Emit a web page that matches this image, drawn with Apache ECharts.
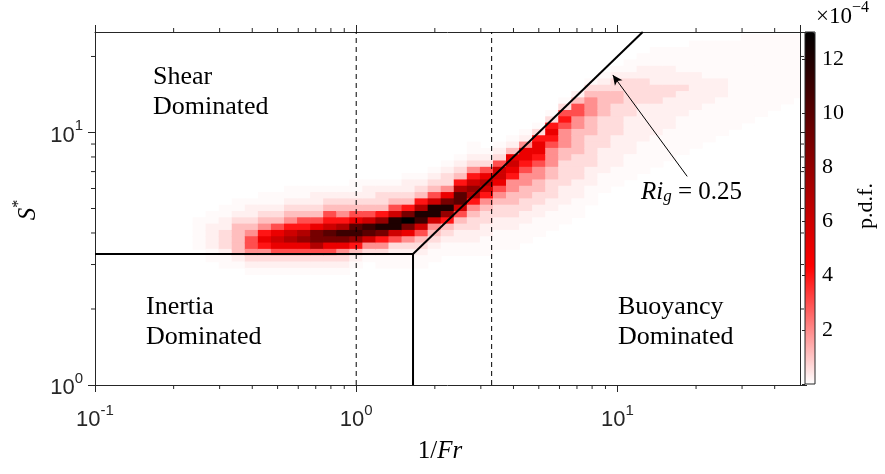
<!DOCTYPE html>
<html>
<head>
<meta charset="utf-8">
<script src="https://cdn.jsdelivr.net/npm/echarts@6/dist/echarts.min.js"></script>
<style>html,body{margin:0;padding:0;background:#fff}#c{width:885px;height:474px}</style>
</head>
<body>
<div id="c"></div>
<script>
// ---- data ----
// log10 bin centres of the p.d.f. grid (x: 1/Fr, y: S*)
const xBinLog = [-0.60,-0.55,-0.50,-0.45,-0.40,-0.35,-0.30,-0.25,-0.20,-0.15,-0.10,-0.05,0.00,0.05,0.10,0.15,0.20,0.25,0.30,0.35,0.40,0.45,0.50,0.55,0.60,0.65,0.70,0.75,0.80,0.85,0.90,0.95,1.00,1.05,1.10,1.15,1.20,1.25,1.30,1.35,1.40,1.45,1.50,1.55,1.60,1.65,1.70];
const yBinLog = [1.400,1.375,1.350,1.325,1.300,1.275,1.250,1.225,1.200,1.175,1.150,1.125,1.100,1.075,1.050,1.025,1.000,0.975,0.950,0.925,0.900,0.875,0.850,0.825,0.800,0.775,0.750,0.725,0.700,0.675,0.650,0.625,0.600,0.575,0.550,0.525,0.500,0.475,0.450,0.425,0.400,0.375,0.350];
// density level codes (p.d.f. in units of 1e-4)
const levelKeys = 'abcdefghijklmnop';
const levelValues = [0.08,0.25,0.6,1.1,1.9,3,4,5,6,7,8,9,10,11,12,13];
// for each x column: first y row (index into yBinLog) and level codes downward
const colStart = [30,29,28,27,27,26,26,25,25,25,25,25,24,24,24,24,23,23,22,21,20,18,19,18,17,16,15,13,11,10,8,7,6,5,4,3,3,3,2,2,2,2,1,1,1,1,1];
const colVals = [
 "aaaaa","aabbbbaa","aabbcccbaa","aabcdddddba","abbcdeffecba","aabcdeghgecba","aabcdfhihfcba","aabcdegijhfcba",
 "aabcdfgjkhfcba","abbcdfhlljfcba","abcdfgimlhfcba","abcdegjnlhecba","aabcdfhmnkgdba","abbcdfinmieca","abccdgkolgecaa","abcdfiooifcbaa",
 "abbcdglplhecbaa","abcdgjonifdcbaa","abcdfiooiedcbaa","abccehlokgdcbaa","abcdgjmmifdcbbaa","aabcegikjgedccbbaa","abcfhjigedccbbaaa","abcfiihfedccbbaaa",
 "abdhihgeeddccbbaaa","abehhgfeeddccbbaaa","acghhgfeeddccbbaaa","acghgfeeeddcccbbaaa","acfgfeeeddccccbbbaaa","bdffeeddddccccbbbaaa","acdeeedddcccccbbbaaa","abcddddcccccbbbbaaa",
 "abccddcccccbbbbbaaa","aabccccccbbbbbbaaaa","aabbccccbbbbbbaaaaa","aaabbbcccbbbbbaaaaa","aaabbbccbbbbbaaaaa","aaaabbcbbbbaaaaaa","aaaaabbbbbbaaaaaa","aaaaaabbbbaaaaaa",
 "aaaaaabbbaaaaaa","aaaaaaaaaaaaaa","aaaaaaaaaaaaaa","aaaaaaaaaaaaa","aaaaaaaaaaaa","aaaaaaaaaaa","aaaaaaaaaa"
];
// regime boundaries and reference lines (data coordinates)
const inertiaBoundary = [[0.1,3.3],[1.65,3.3],[1.65,1]];
const richardsonLine = [[1.65,3.3],[12.5,25]];
const dashedX = [1, 3.3];
const arrowFrom = [18.5, 6.7];
const arrowTo = [9.6, 16.9];
// axis ranges and minor ticks
const xRange = [0.1, 50];
const yRange = [1, 25];
const xMinorTicks = [0.2,0.3,0.4,0.5,0.6,0.7,0.8,0.9,2,3,4,5,6,7,8,9,20,30,40];
const yMinorTicks = [2,3,4,5,6,7,8,9,20];
const cbarRange = [0, 13];
const cbarTicks = [2,4,6,8,10,12];

// ---- build ----
const halfX = Math.pow(10, 0.025), halfY = Math.pow(10, 0.0125);
const heat = [];
colVals.forEach((s, i) => {
  for (let k = 0; k < s.length; k++) {
    const v = levelValues[levelKeys.indexOf(s[k])];
    heat.push([Math.pow(10, xBinLog[i]), Math.pow(10, yBinLog[colStart[i] + k]), v]);
  }
});

const AX = '#262626';
const SERIF = '"Liberation Serif"';
function powLabel(v) {
  const e = Math.round(Math.log10(v));
  if (Math.abs(Math.pow(10, e) - v) > 1e-9 * v) return '';
  return '{bb|10}{ss|' + e + '}';
}
const richPow = {
  bb: {fontFamily: 'Liberation Sans', fontSize: 22, color: AX, lineHeight: 28, verticalAlign: 'bottom'},
  ss: {fontFamily: 'Liberation Sans', fontSize: 15, color: AX, lineHeight: 28, verticalAlign: 'top'}
};

const chart = echarts.init(document.getElementById('c'), null, {renderer: 'canvas'});
const lineStyleBlack = {color: '#000', width: 2};
chart.setOption({
  animation: false,
  backgroundColor: '#fff',
  grid: [
    {left: 95, top: 32, width: 705, height: 353},
    {left: 805, top: 32, width: 10, height: 352, show: true, z: 10, borderColor: AX, borderWidth: 1, backgroundColor: 'transparent'}
  ],
  xAxis: [
    {type: 'log', logBase: 10, min: xRange[0], max: xRange[1], gridIndex: 0, position: 'bottom',
     axisLine: {lineStyle: {color: AX, width: 1}}, axisTick: {length: 7, lineStyle: {color: AX}},
     splitLine: {show: false}, axisLabel: {formatter: powLabel, rich: richPow, margin: 18, showMaxLabel: false}},
    {type: 'log', logBase: 10, min: xRange[0], max: xRange[1], gridIndex: 0, position: 'top',
     axisLine: {onZero: false, lineStyle: {color: AX, width: 1}}, axisTick: {length: 7, lineStyle: {color: AX}},
     splitLine: {show: false}, axisLabel: {show: false}},
    {type: 'value', gridIndex: 1, min: 0, max: 1, show: false}
  ],
  yAxis: [
    {type: 'log', logBase: 10, min: yRange[0], max: yRange[1], gridIndex: 0, position: 'left',
     axisLine: {lineStyle: {color: AX, width: 1}}, axisTick: {length: 7, lineStyle: {color: AX}},
     splitLine: {show: false}, axisLabel: {formatter: powLabel, rich: richPow, margin: 12, showMaxLabel: false}},
    {type: 'log', logBase: 10, min: yRange[0], max: yRange[1], gridIndex: 0, position: 'right',
     axisLine: {onZero: false, lineStyle: {color: AX, width: 1}}, axisTick: {length: 7, lineStyle: {color: AX}},
     splitLine: {show: false}, axisLabel: {show: false}},
    {type: 'value', gridIndex: 1, min: cbarRange[0], max: cbarRange[1], interval: 2, position: 'right', z: 10,
     axisLine: {show: false},
     axisTick: {show: true, inside: true, length: 3, lineStyle: {color: AX}},
     splitLine: {show: false},
     axisLabel: {margin: 7, fontFamily: 'Liberation Serif', fontSize: 22, color: '#000', showMaxLabel: false,
       formatter: v => cbarTicks.indexOf(v) >= 0 ? String(v) : ''}}
  ],
  visualMap: {
    type: 'continuous', seriesIndex: 0, dimension: 2, min: cbarRange[0], max: cbarRange[1],
    calculable: false, orient: 'vertical', left: 805, top: 32, itemWidth: 10, itemHeight: 352, padding: 0,
    text: null, showLabel: false, hoverLink: false,
    inRange: {color: ['#ffffff', '#ff0000', '#800000', '#000000']}
  },
  series: [
    {
      type: 'custom', xAxisIndex: 0, yAxisIndex: 0, data: heat, clip: true, z: 1,
      renderItem: function (params, api) {
        const x = api.value(0), y = api.value(1);
        const p1 = api.coord([x / halfX, y * halfY]);
        const p2 = api.coord([x * halfX, y / halfY]);
        const cs = params.coordSys;
        const r = echarts.graphic.clipRectByRect(
          {x: p1[0] - 0.4, y: p1[1] - 0.4, width: p2[0] - p1[0] + 0.8, height: p2[1] - p1[1] + 0.8},
          {x: cs.x, y: cs.y, width: cs.width, height: cs.height});
        if (!r) return;
        return {type: 'rect', shape: r, style: {fill: api.visual('color')}};
      }
    },
    {type: 'line', xAxisIndex: 0, yAxisIndex: 0, data: inertiaBoundary, symbol: 'none', lineStyle: lineStyleBlack, z: 5},
    {type: 'line', xAxisIndex: 0, yAxisIndex: 0, data: richardsonLine, symbol: 'none', lineStyle: lineStyleBlack, z: 5,
     markLine: {silent: true, symbol: ['none', 'arrow'], symbolSize: [7, 10], animation: false,
       lineStyle: {color: '#000', width: 1, type: 'solid'}, label: {show: false},
       data: [[{coord: arrowFrom}, {coord: arrowTo}]]}},
    {type: 'line', xAxisIndex: 0, yAxisIndex: 0, data: [[dashedX[0], yRange[0]], [dashedX[0], yRange[1]]], symbol: 'none',
     lineStyle: {color: '#000', width: 1, type: [5, 4]}, z: 5},
    {type: 'line', xAxisIndex: 0, yAxisIndex: 0, data: [[dashedX[1], yRange[0]], [dashedX[1], yRange[1]]], symbol: 'none',
     lineStyle: {color: '#000', width: 1, type: [5, 4]}, z: 5},
    {type: 'custom', xAxisIndex: 0, yAxisIndex: 0, data: xMinorTicks.map(v => [v]), clip: false, z: 3,
     renderItem: function (params, api) {
       const cs = params.coordSys;
       const x = api.coord([api.value(0), yRange[0]])[0];
       return {type: 'group', children: [
         {type: 'line', shape: {x1: x, y1: cs.y + cs.height, x2: x, y2: cs.y + cs.height + 4}, style: {stroke: AX, lineWidth: 1}},
         {type: 'line', shape: {x1: x, y1: cs.y, x2: x, y2: cs.y - 4}, style: {stroke: AX, lineWidth: 1}}
       ]};
     }},
    {type: 'custom', xAxisIndex: 0, yAxisIndex: 0, data: yMinorTicks.map(v => [xRange[0], v]), clip: false, z: 3,
     renderItem: function (params, api) {
       const cs = params.coordSys;
       const y = api.coord([xRange[0], api.value(1)])[1];
       return {type: 'group', children: [
         {type: 'line', shape: {x1: cs.x, y1: y, x2: cs.x - 4, y2: y}, style: {stroke: AX, lineWidth: 1}},
         {type: 'line', shape: {x1: cs.x + cs.width, y1: y, x2: cs.x + cs.width + 4, y2: y}, style: {stroke: AX, lineWidth: 1}}
       ]};
     }}
  ],
  graphic: [
    {type: 'text', left: 153, top: 62, z: 20, style: {text: 'Shear\nDominated', font: '26px ' + SERIF, lineHeight: 30, fill: '#000'}},
    {type: 'text', left: 146, top: 292, z: 20, style: {text: 'Inertia\nDominated', font: '26px ' + SERIF, lineHeight: 30, fill: '#000'}},
    {type: 'text', left: 618, top: 292, z: 20, style: {text: 'Buoyancy\nDominated', font: '26px ' + SERIF, lineHeight: 30, fill: '#000'}},
    {type: 'text', left: 641, top: 180, z: 20, style: {
      text: '{it|Ri}{sub|g}{rm| = 0.25}', rich: {
        it: {fontFamily: 'Liberation Serif', fontStyle: 'italic', fontSize: 25, lineHeight: 30, verticalAlign: 'bottom', fill: '#000'},
        sub: {fontFamily: 'Liberation Serif', fontStyle: 'italic', fontSize: 17, lineHeight: 30, verticalAlign: 'bottom', fill: '#000'},
        rm: {fontFamily: 'Liberation Serif', fontSize: 25, lineHeight: 30, verticalAlign: 'bottom', fill: '#000'}
      }}},
    {type: 'text', x: 440, y: 451, z: 20, style: {
      text: '{rm|1/}{it|Fr}', align: 'center', verticalAlign: 'middle', rich: {
        rm: {fontFamily: 'Liberation Serif', fontSize: 25, fill: '#000'},
        it: {fontFamily: 'Liberation Serif', fontStyle: 'italic', fontSize: 25, fill: '#000'}
      }}},
    {type: 'text', x: 26, y: 210, rotation: Math.PI / 2, z: 20, style: {
      text: '{it|S}{sup|*}', align: 'center', verticalAlign: 'middle', rich: {
        it: {fontFamily: 'Liberation Serif', fontStyle: 'italic', fontSize: 25, lineHeight: 30, verticalAlign: 'bottom', fill: '#000'},
        sup: {fontFamily: 'Liberation Serif', fontSize: 16, lineHeight: 30, verticalAlign: 'top', fill: '#000'}
      }}},
    {type: 'text', x: 866, y: 206, rotation: Math.PI / 2, z: 20, style: {
      text: 'p.d.f.', align: 'center', verticalAlign: 'middle', font: '22px ' + SERIF, fill: '#000'}},
    {type: 'text', left: 816, top: 0, z: 20, style: {
      text: '{rm|×10}{sup|−4}', rich: {
        rm: {fontFamily: 'Liberation Serif', fontSize: 23, lineHeight: 28, verticalAlign: 'bottom', fill: '#000'},
        sup: {fontFamily: 'Liberation Serif', fontSize: 16, lineHeight: 28, verticalAlign: 'top', fill: '#000'}
      }}}
  ]
});
</script>
</body>
</html>
